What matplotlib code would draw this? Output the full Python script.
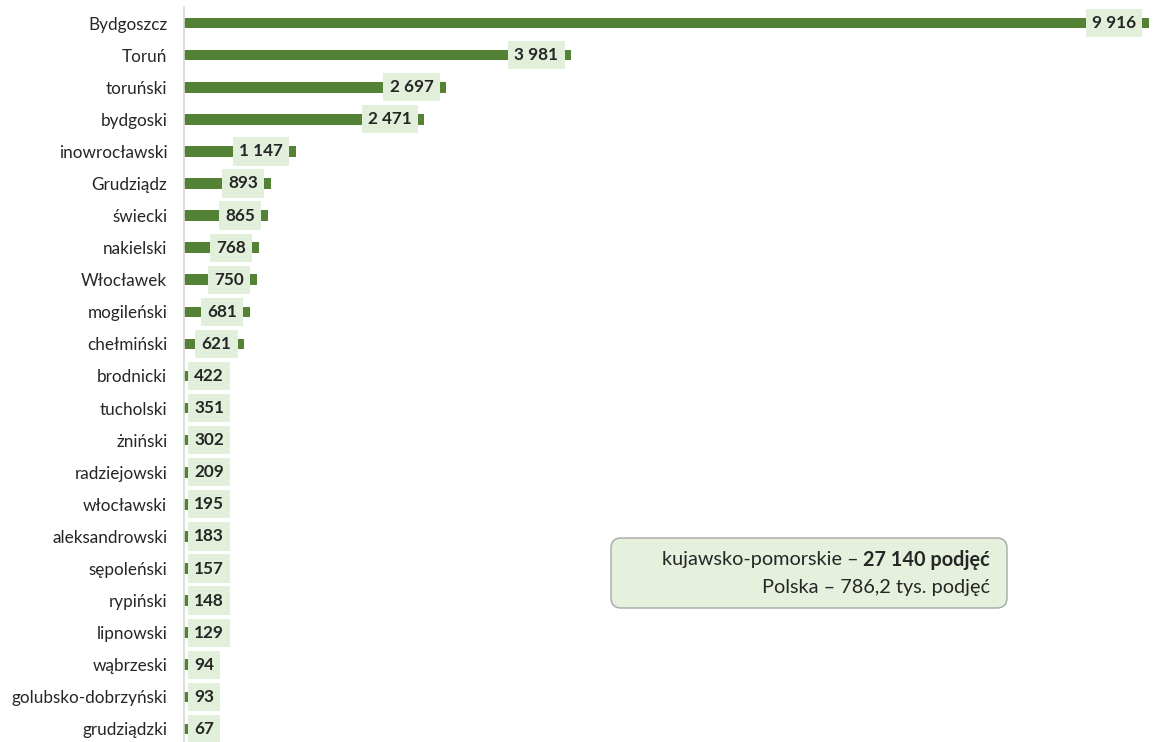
import matplotlib
matplotlib.use("Agg")
import matplotlib.pyplot as plt
from matplotlib.patches import FancyBboxPatch
from matplotlib.transforms import IdentityTransform

categories = ["Bydgoszcz", "Toruń", "toruński", "bydgoski", "inowrocławski", "Grudziądz",
              "świecki", "nakielski", "Włocławek", "mogileński", "chełmiński", "brodnicki",
              "tucholski", "żniński", "radziejowski", "włocławski", "aleksandrowski",
              "sępoleński", "rypiński", "lipnowski", "wąbrzeski", "golubsko-dobrzyński",
              "grudziądzki"]
values = [9916, 3981, 2697, 2471, 1147, 893, 865, 768, 750, 681, 621, 422, 351, 302,
          209, 195, 183, 157, 148, 129, 94, 93, 67]

info_region = "kujawsko-pomorskie – "
info_region_bold = "27 140 podjęć"
info_country = "Polska – 786,2 tys. podjęć"

FONT = ["Lato", "DejaVu Sans"]
plt.rcParams["font.family"] = FONT

BAR = "#548235"
LBL_BG = "#E2EFDA"
TXT = "#262626"

W, H, DPI = 1157, 742, 100
fig = plt.figure(figsize=(W / DPI, H / DPI), dpi=DPI)
ax = fig.add_axes([184 / W, (H - 745) / H, 973.2 / W, 738 / H])

y = list(range(len(categories)))
ax.barh(y, values, height=0.33, color=BAR, zorder=2)
ax.set_ylim(len(categories) - 0.5, -0.5)
ax.set_xlim(0, 10000)
ax.set_yticks(y)
ax.set_yticklabels(categories, fontsize=12.3, color=TXT)
ax.tick_params(axis="y", length=0, pad=12)
ax.set_xticks([])
for s in ["top", "right", "bottom"]:
    ax.spines[s].set_visible(False)
ax.spines["left"].set_color("#D9D9D9")
ax.spines["left"].set_linewidth(1.2)

renderer = fig.canvas.get_renderer()
px2pt = 72 / DPI
padpx = 6
for yi, v in zip(y, values):
    lab = f"{v:,}".replace(",", " ")
    t = ax.annotate(lab, xy=(v, yi), xytext=(-(7 + padpx) * px2pt, 0), textcoords="offset points",
                    ha="right", va="center", fontsize=12.3, fontweight="bold", color=TXT, zorder=4,
                    bbox=dict(boxstyle="square,pad=0.36", fc=LBL_BG, ec="none"))
    bb = t.get_window_extent(renderer)
    x0 = ax.transData.transform((0, yi))[0]
    xe = ax.transData.transform((v, yi))[0]
    if xe - 7 - (bb.width + 2 * padpx) < x0 + 4:
        t.set_position(((4 + padpx) * px2pt, 0))
        t.xy = (0, yi)
        t.set_ha("left")

# info box
fig.patches.append(FancyBboxPatch((611, H - 608), 396, 70,
                                  boxstyle="round,pad=0,rounding_size=10",
                                  transform=IdentityTransform(), fc="#E5F0DD", ec="#A6A6A6",
                                  lw=1.0, zorder=5))
xr = 990
fs = 14.3
tb = fig.text(xr / W, (H - 560) / H, info_region_bold, ha="right", va="center",
              fontsize=fs, fontweight="bold", color=TXT, zorder=6)
bbt = tb.get_window_extent(renderer)
fig.text(bbt.x0 / W, (H - 560) / H, info_region, ha="right", va="center",
         fontsize=fs, color=TXT, zorder=6)
fig.text(xr / W, (H - 587) / H, info_country, ha="right", va="center",
         fontsize=fs, color=TXT, zorder=6)

fig.savefig("out.png", dpi=DPI)
